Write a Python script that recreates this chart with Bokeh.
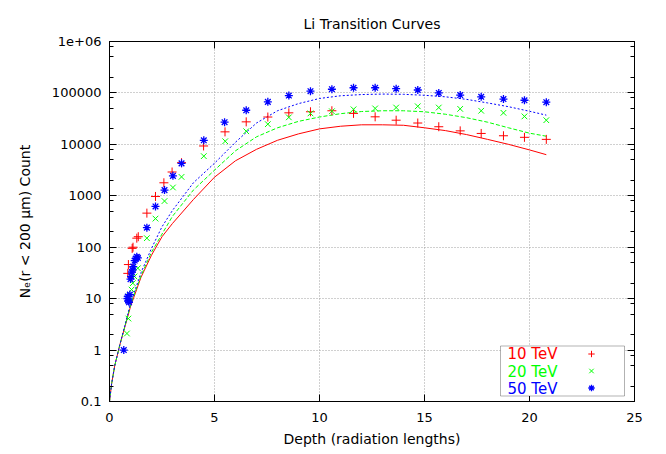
from bokeh.plotting import figure
from bokeh.models import (FixedTicker, LogAxis, LinearAxis, Legend, LegendItem,
                          Label, BoxAnnotation, Range1d)
from bokeh.embed import file_html
from bokeh.resources import INLINE

title = "Li Transition Curves"
x_label = "Depth (radiation lengths)"
y_label = "N\u2091(r < 200 \u00b5m) Count"
series_names = ["10 TeV", "20 TeV", "50 TeV"]
series_colors = ["#ff0000", "#00ff00", "#0000ff"]

x_ticks = [0, 5, 10, 15, 20, 25]
y_ticks = [0.1, 1, 10, 100, 1000, 10000, 100000, 1000000]
y_tick_labels = ["0.1", "1", "10", "100", "1000", "10000", "100000", "1e+06"]
y_minor_mult = [2, 5, 8]

# measured points
x_10 = [0.87, 0.90, 1.08, 1.12, 1.30, 1.37, 1.78, 2.19, 2.59, 2.98, 3.43, 4.48,
        5.50, 6.51, 7.54, 8.54, 9.57, 10.59, 11.62, 12.65, 13.65, 14.68, 15.68,
        16.70, 17.70, 18.76, 19.76, 20.80]
y_10 = [31, 46, 95, 100, 150, 160, 460, 970, 1790, 2900, 4400, 9300,
        17500, 27400, 34000, 41000, 43000, 45000, 40000, 34300, 29500, 26000, 22000,
        18300, 16300, 14700, 13700, 12500]

x_20 = [0.83, 0.90, 0.97, 1.05, 1.11, 1.19, 1.35, 1.78, 2.19, 2.62, 3.02, 3.43,
        4.49, 5.51, 6.51, 7.54, 8.54, 9.57, 10.59, 11.62, 12.65, 13.65, 14.68,
        15.68, 16.70, 17.70, 18.76, 19.76, 20.80]
y_20 = [2.1, 4.1, 11, 15, 20, 27, 39, 150, 360, 790, 1450, 2330,
        5900, 11500, 18000, 24700, 33500, 40000, 44000, 48000, 50000, 52000, 55000,
        52000, 49000, 45000, 41000, 35000, 29500]

x_50 = [0.68, 0.85, 0.87, 0.90, 0.93, 0.97, 1.00, 1.03, 1.07, 1.10, 1.13, 1.20,
        1.25, 1.30, 1.35, 1.78, 2.19, 2.62, 3.02, 3.43, 4.49, 5.48, 6.51, 7.54,
        8.54, 9.57, 10.59, 11.62, 12.65, 13.65, 14.68, 15.68, 16.70, 17.70, 18.76,
        19.76, 20.80]
y_50 = [1, 10, 11, 9, 8.5, 12, 24, 27, 33, 36, 42, 55,
        60, 65, 62, 240, 620, 1290, 2440, 4270, 12000, 27000, 46000, 67000,
        89000, 108000, 118000, 126000, 126000, 121000, 114000, 100000, 91000, 84000, 76000,
        72000, 66000]

# fitted curves
curve_x = [0, 0.1, 0.25, 0.5, 0.75, 1.0, 1.5, 2.0, 2.5, 3, 4, 5, 6, 7, 8, 9, 10,
           11, 12, 13, 14, 15, 16, 17, 18, 19, 20, 20.8]
curve_10 = [0.1, 0.22, 0.5, 1.3, 3.0, 7, 26, 70, 160, 290, 850, 2300, 4800, 8000,
            12000, 16000, 20000, 22500, 24000, 24000, 23500, 21000, 18500, 15500,
            12500, 10000, 7800, 6300]
curve_20 = [0.1, 0.22, 0.5, 1.3, 3.1, 7.5, 28, 80, 180, 400, 1300, 3150, 7500, 14000,
            21000, 28000, 34000, 39500, 43500, 45000, 45000, 43000, 38500, 33000,
            27000, 21000, 16500, 14400]
curve_50 = [0.1, 0.22, 0.5, 1.3, 3.2, 8, 32, 95, 250, 520, 1800, 4300, 11000, 26000,
            45000, 62000, 78000, 88000, 93000, 95000, 94000, 90000, 84000, 75000,
            64000, 54000, 44000, 37000]

FONT = "DejaVu Sans"

p = figure(width=658, height=451, x_range=Range1d(0, 25), y_range=Range1d(0.1, 1e6),
           y_axis_type="log", output_backend="svg", toolbar_location=None,
           title=title, min_border_left=109, min_border_right=24,
           min_border_top=41, min_border_bottom=50)
p.background_fill_color = "white"
p.border_fill_color = "white"
p.outline_line_color = "black"
p.outline_line_width = 1

p.title.align = "center"
p.title.text_font = FONT
p.title.text_font_size = "14px"
p.title.text_font_style = "normal"
p.title.text_color = "black"
p.title.standoff = 19

y_minor = [m * t for t in y_ticks[:-1] for m in y_minor_mult] + [0.1 * 5, 0.1 * 8]
y_minor = sorted(set(v for v in y_minor if 0.1 <= v <= 1e6))
yticker = FixedTicker(ticks=y_ticks, minor_ticks=y_minor)
xticker = FixedTicker(ticks=x_ticks, minor_ticks=[])


def style_axis(ax, labels=True):
    ax.axis_line_color = "black"
    ax.major_tick_line_color = "black"
    ax.minor_tick_line_color = "black"
    ax.major_tick_in = 7
    ax.major_tick_out = 0
    ax.minor_tick_in = 4
    ax.minor_tick_out = 0
    ax.major_label_text_font = FONT
    ax.major_label_text_font_size = "13px" if labels else "3px"
    ax.major_label_text_color = "black"
    if not labels:
        ax.major_label_text_alpha = 0
        ax.major_label_standoff = 0
    ax.axis_label_text_font = FONT
    ax.axis_label_text_font_size = "14px"
    ax.axis_label_text_font_style = "normal"
    ax.axis_label_text_color = "black"


p.xaxis.ticker = xticker
p.yaxis.ticker = yticker
p.yaxis.major_label_overrides = {t: s for t, s in zip(y_ticks, y_tick_labels)}
style_axis(p.xaxis[0])
style_axis(p.yaxis[0])
p.xaxis.axis_label = x_label
p.yaxis.axis_label = y_label
p.xaxis.major_label_standoff = 11
p.xaxis.axis_label_standoff = 6
p.yaxis.major_label_standoff = 8
p.yaxis.axis_label_standoff = 16

ax_top = LinearAxis(ticker=xticker)
style_axis(ax_top, labels=False)
ax_top.major_label_standoff = 5
p.add_layout(ax_top, "above")
ax_right = LogAxis(ticker=yticker)
style_axis(ax_right, labels=False)
p.add_layout(ax_right, "right")

for g in (p.xgrid[0], p.ygrid[0]):
    g.grid_line_color = "#a0a0a0"
    g.grid_line_dash = "1 2"
    g.grid_line_width = 1
p.xgrid.ticker = xticker
p.ygrid.ticker = yticker

# curves
p.line(curve_x, curve_10, line_color=series_colors[0], line_width=1)
p.line(curve_x, curve_20, line_color=series_colors[1], line_width=1, line_dash="4 2")
p.line(curve_x, curve_50, line_color=series_colors[2], line_width=1, line_dash="2 2")

# points
r10 = p.scatter(x_10, y_10, marker="cross", size=9, line_color=series_colors[0], line_width=1)
r20 = p.scatter(x_20, y_20, marker="x", size=8, line_color=series_colors[1], line_width=1)
r50 = p.scatter(x_50, y_50, marker="asterisk", size=8, line_color=series_colors[2], line_width=1.3)

# legend box (gnuplot style: label left, sample right)
box = BoxAnnotation(left=391, right=515, bottom=5.5, top=55.5,
                    left_units="screen", right_units="screen",
                    bottom_units="screen", top_units="screen",
                    fill_color="white", fill_alpha=1.0,
                    line_color="black", line_width=1)
p.add_layout(box)

legend = Legend(items=[LegendItem(label=" ", renderers=[r]) for r in (r10, r20, r50)],
                location=(474, 5), orientation="vertical",
                border_line_color=None, background_fill_alpha=0,
                padding=0, margin=0, spacing=0,
                glyph_width=16, glyph_height=17, label_height=17,
                label_standoff=0,
                label_text_font=FONT, label_text_font_size="12px")
p.add_layout(legend)

row_y = [47.5, 30.0, 13.0]
for name, col, yy in zip(series_names, series_colors, row_y):
    p.add_layout(Label(x=398, y=yy, x_units="screen", y_units="screen", text=name,
                       text_color=col, text_font=FONT, text_font_size="15px",
                       text_baseline="middle", text_align="left"))

open("out.html", "w").write(file_html(p, INLINE))
